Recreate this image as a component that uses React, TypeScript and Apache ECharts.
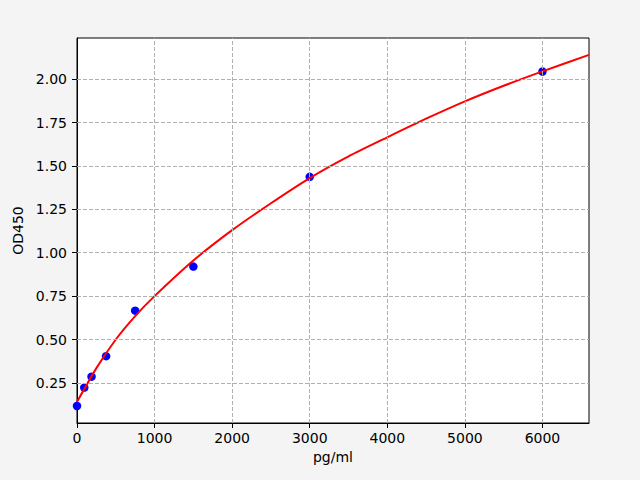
import React, { useEffect, useRef } from "react";
import * as echarts from "echarts";

// standard points (concentration, optical density)
const standardConc = [0, 93.75, 187.5, 375, 750, 1500, 3000, 6000];
const standardOD = [0.117, 0.223, 0.286, 0.404, 0.666, 0.92, 1.437, 2.044];

// fitted curve
const curveConc = [0, 250, 500, 750, 1000, 1500, 2000, 2500, 3000, 3500, 4000, 4500, 5000, 5500, 6000, 6600];
const curveOD = [0.14, 0.335, 0.5, 0.635, 0.75, 0.955, 1.13, 1.285, 1.43, 1.555, 1.665, 1.772, 1.872, 1.962, 2.045, 2.14];

const xTicks = [0, 1000, 2000, 3000, 4000, 5000, 6000];
const yTicks = [0.25, 0.5, 0.75, 1.0, 1.25, 1.5, 1.75, 2.0];

const FONT = "DejaVu Sans";

const App = () => {
  const chartRef = useRef<HTMLDivElement | null>(null);

  useEffect(() => {
    if (!chartRef.current) return;
    const myChart = echarts.init(chartRef.current, undefined, { renderer: "svg" });

    const gridLine = {
      color: "#b0b0b0",
      width: 1,
      type: [4, 2],
    };

    const option = {
      animation: false,
      backgroundColor: "#f4f4f4",
      textStyle: { fontFamily: FONT },
      grid: {
        left: 77,
        right: 51,
        top: 38,
        bottom: 57,
        show: true,
        backgroundColor: "#ffffff",
        borderColor: "#000000",
        borderWidth: 1,
      },
      xAxis: {
        type: "value",
        min: 0,
        max: 6600,
        name: "pg/ml",
        nameLocation: "middle",
        nameGap: 27,
        nameTextStyle: { color: "#000", fontSize: 14, fontFamily: FONT },
        axisLine: { show: true, lineStyle: { color: "#000", width: 1 } },
        axisTick: { show: true, length: 5, customValues: xTicks, lineStyle: { color: "#000" } },
        axisLabel: {
          customValues: xTicks,
          color: "#000",
          fontSize: 14,
          fontFamily: FONT,
          margin: 8,
          formatter: (v: number) => String(v),
        },
        splitLine: { show: false },
      },
      yAxis: {
        type: "value",
        min: 0.019,
        max: 2.237,
        name: "OD450",
        nameLocation: "middle",
        nameGap: 44,
        nameTextStyle: { color: "#000", fontSize: 14, fontFamily: FONT },
        axisLine: { show: true, lineStyle: { color: "#000", width: 1 } },
        axisTick: { show: true, length: 5, customValues: yTicks, lineStyle: { color: "#000" } },
        axisLabel: {
          customValues: yTicks,
          color: "#000",
          fontSize: 14,
          fontFamily: FONT,
          margin: 10,
          formatter: (v: number) => v.toFixed(2),
        },
        splitLine: { show: false },
      },
      series: [
        {
          // dashed grid, drawn beneath the data
          type: "line",
          data: [],
          z: 1,
          silent: true,
          markLine: {
            silent: true,
            symbol: "none",
            label: { show: false },
            lineStyle: gridLine,
            emphasis: { disabled: true },
            data: [
              ...xTicks.filter((t) => t > 0).map((t) => ({ xAxis: t })),
              ...yTicks.map((t) => ({ yAxis: t })),
            ],
          },
        },
        {
          type: "scatter",
          z: 2,
          symbolSize: 8.5,
          itemStyle: { color: "#0000ff", opacity: 1 },
          data: standardConc.map((c, i) => [c, standardOD[i]]),
        },
        {
          type: "line",
          z: 3,
          showSymbol: false,
          smooth: 0.25,
          lineStyle: { color: "#ff0000", width: 2 },
          itemStyle: { color: "#ff0000" },
          data: curveConc.map((c, i) => [c, curveOD[i]]),
        },
      ],
    };

    myChart.setOption(option);

    return () => {
      myChart.dispose();
    };
  }, []);

  return (
    <div
      ref={chartRef}
      style={{ position: "absolute", left: 0, top: 0, width: "640px", height: "480px" }}
    ></div>
  );
};

export default App;
